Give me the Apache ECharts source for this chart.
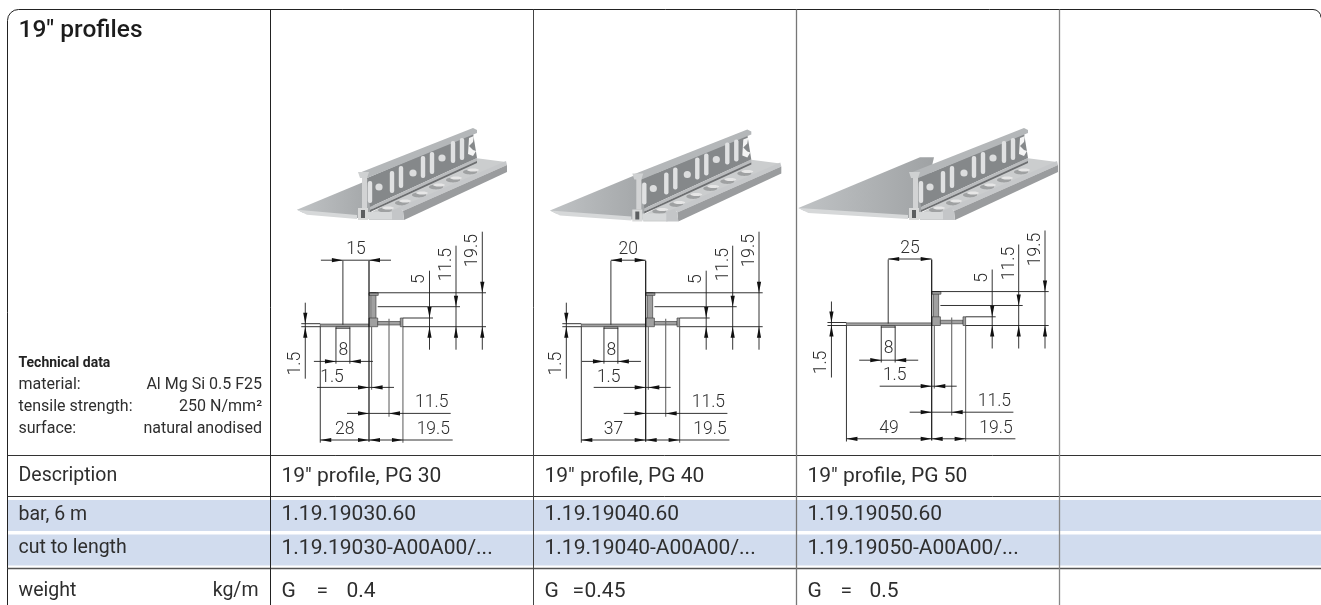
<!DOCTYPE html>
<html><head><meta charset="utf-8">
<style>html,body{margin:0;padding:0;background:#fff}#c{width:1321px;height:605px}</style>
<script src="https://cdn.jsdelivr.net/npm/echarts@6/dist/echarts.min.js"></script>
</head><body><div id="c"></div>
<script>
// ---- data ----
const title = '19" profiles';
const techTitle = 'Technical data';
const techLabels = ['material:', 'tensile strength:', 'surface:'];
const techValues = ['Al Mg Si 0.5 F25', '250 N/mm²', 'natural anodised'];
const rowLabels = ['Description', 'bar, 6 m', 'cut to length', 'weight'];
const weightUnit = 'kg/m';
const descriptions = ['19" profile, PG 30', '19" profile, PG 40', '19" profile, PG 50'];
const barCodes = ['1.19.19030.60', '1.19.19040.60', '1.19.19050.60'];
const cutCodes = ['1.19.19030-A00A00/...', '1.19.19040-A00A00/...', '1.19.19050-A00A00/...'];
const weights = ['0.4', '0.45', '0.5'];
const flangeWidths = [28, 37, 49];
const slotOffsets = [15, 20, 25];
const slotWidth = 8;
const thickness = 1.5;
const heights = [5, 11.5, 19.5];
const armWidths = [11.5, 19.5];

// ---- layout (pixels) ----
const FONT = 'Roboto';
const INK = '#2e2e2e';
const colX = [7.5, 270.5, 533.5, 796.5, 1059.5];
const colColor = ['#222', '#222', '#444', '#777', '#888'];
const lineY = [9.5, 455.5, 496.5, 568.5];
const bandY = [[500, 531], [534.5, 565.5]];
const rowCenter = [476.5, 515, 548.5, 591.5];
const techY = [385, 407, 429];
const origins = [[369, 326.7], [645.7, 326.7], [931.7, 325.5]];
const feet = [[363, 218], [637.3, 219.5], [914, 218]];
const eqOffset = [35, 28, 33];
const valOffset = [65, 40, 62];
const SCALE = 1.74;

const seg = (api, x1, y1, x2, y2, stroke = INK, lineWidth = 1) => {
  const a = api.coord([x1, y1]), b = api.coord([x2, y2]);
  return { type: 'line', shape: { x1: a[0], y1: a[1], x2: b[0], y2: b[1] }, style: { stroke, lineWidth } };
};
const txt = (api, x, y, text, o = {}) => {
  const p = api.coord([x, y]);
  return {
    type: 'text', x: p[0], y: p[1], rotation: o.rotation || 0,
    style: {
      text, fontFamily: FONT, fontSize: o.size || 18, fontWeight: o.weight || 400,
      fill: o.fill || INK, align: o.align || 'left', verticalAlign: 'middle'
    }
  };
};
const poly = (api, pts, fill) => ({
  type: 'polygon', shape: { points: pts.map(p => api.coord(p)) }, style: { fill }
});
const tri = (api, x, y, dir, fill = '#111') => {
  const L = 11, H = 2.1, d = { r: [1, 0], l: [-1, 0], u: [0, -1], d: [0, 1] }[dir];
  return poly(api, [[x, y], [x - d[0] * L - d[1] * H, y - d[1] * L - d[0] * H], [x - d[0] * L + d[1] * H, y - d[1] * L + d[0] * H]], fill);
};

function custom(data, fn, z) {
  return {
    type: 'custom', coordinateSystem: 'cartesian2d', clip: false, silent: true, z,
    data: data.map((d, i) => [i, 0]),
    encode: { x: 0, y: 1 },
    renderItem: (params, api) => ({ type: 'group', children: fn(params.dataIndex, api) })
  };
}

// ---- table ----
function bandMark(i, api) {
  const a = api.coord([colX[0], bandY[i][0]]), b = api.coord([1321, bandY[i][1]]);
  return [{ type: 'rect', shape: { x: a[0], y: a[1], width: b[0] - a[0], height: b[1] - a[1] }, style: { fill: '#d1dcee' } }];
}
function ruleMark(i, api) {
  const out = [];
  const R = 11, l = colX[0], t = lineY[0];
  out.push(seg(api, l + R, t, 1313, t, '#222', 1));
  out.push(seg(api, l, t + R, l, 605, '#222', 1));
  const c1 = api.coord([l + R, t + R]);
  out.push({ type: 'arc', shape: { cx: c1[0], cy: c1[1], r: R, startAngle: Math.PI, endAngle: Math.PI * 1.5, clockwise: true }, style: { fill: 'none', stroke: '#222', lineWidth: 1 } });
  const c2 = api.coord([1313, t + 8]);
  out.push({ type: 'arc', shape: { cx: c2[0], cy: c2[1], r: 8, startAngle: Math.PI * 1.5, endAngle: Math.PI * 2, clockwise: true }, style: { fill: 'none', stroke: '#222', lineWidth: 1 } });
  lineY.slice(1).forEach((y, k) => out.push(seg(api, colX[0], y, 1321, y, k === 2 ? '#555' : '#333', k === 2 ? 1.5 : 1)));
  colX.slice(1).forEach((x, k) => out.push(seg(api, x, lineY[0], x, 605, colColor[k + 1], k > 1 ? 1.3 : 1)));
  return out;
}
function tableText(i, api) {
  const tx = 18.5, rx = 262;
  const out = [
    txt(api, tx, 30.5, title, { size: 24.5, weight: 500, fill: '#1c1c1c' }),
    txt(api, tx, 363, techTitle, { size: 14, weight: 700, fill: '#222' })
  ];
  techLabels.forEach((t, k) => {
    out.push(txt(api, tx, techY[k], t, { size: 16 }));
    out.push(txt(api, rx, techY[k], techValues[k], { size: 16, align: 'right' }));
  });
  rowLabels.forEach((t, k) => out.push(txt(api, tx, rowCenter[k], t, { size: 19.5 })));
  out.push(txt(api, 258.5, rowCenter[3], weightUnit, { size: 19.5, align: 'right' }));
  [descriptions, barCodes, cutCodes].forEach((col, k) => col.forEach((t, c) => {
    out.push(txt(api, colX[c + 1] + 11, rowCenter[k], t, { size: 21 }));
  }));
  weights.forEach((t, c) => {
    const x = colX[c + 1] + 11;
    out.push(txt(api, x, rowCenter[3], 'G', { size: 21 }));
    out.push(txt(api, x + eqOffset[c], rowCenter[3], '=', { size: 21 }));
    out.push(txt(api, x + valOffset[c], rowCenter[3], t, { size: 21 }));
  });
  return out;
}

// ---- 3D view of the profile ----
function photoMark(i, api) {
  const [fx, fy] = feet[i], w = flangeWidths[i];
  const P = (x, y) => [fx + x, fy + y];
  const tipX = -w * 2.36, tipY = -6 - w * 0.08;
  const backX = 6, backY = tipY - (backX - tipX) * 0.417;
  const out = [];
  // flange
  out.push({
    type: 'polygon',
    shape: { points: [P(tipX, tipY), P(backX, backY), P(backX + 14, backY), P(6, 0), P(-6, 0), P(tipX + 6, tipY + 3)].map(p => api.coord(p)) },
    style: { fill: { type: 'linear', x: 0, y: 0, x2: 1, y2: 0, colorStops: [{ offset: 0, color: '#c0c3c5' }, { offset: 1, color: '#9fa2a4' }] } }
  });
  out.push(poly(api, [P(tipX, tipY), P(tipX + 6, tipY + 3), P(tipX + 10, tipY + 5), P(-6, 1), P(-6, -3)], '#d6d8d9'));
  // floor of the channel
  out.push(poly(api, [P(5, -4), P(112, -60), P(143, -56), P(37, -8), P(30, 2), P(6, 2)], '#cbcdce'));
  // back plate
  out.push(poly(api, [P(4, -40), P(110, -85), P(114, -60), P(7, -11)], '#85888a'));
  // cap of plate
  out.push(poly(api, [P(-4, -45), P(110, -90), P(114, -88), P(114, -85), P(4, -40)], '#b4b7b9'));
  // end hook cut-out
  out.push(poly(api, [P(106, -80), P(111, -82), P(110, -76), P(106, -72), P(110, -68), P(113, -67), P(110, -62), P(105, -64)], '#f4f4f4'));
  // holes
  [[7, -26, 0], [16, -31, 1], [29, -36, 0], [38, -41, 0], [50, -45, 1], [60, -51, 0], [69, -55, 0], [79, -60, 1], [90, -66, 0], [99, -69, 0]].forEach(h => {
    const c = api.coord(P(h[0], h[1]));
    if (h[2]) out.push({ type: 'circle', shape: { cx: c[0], cy: c[1], r: 3.6 }, style: { fill: '#dcddde' } });
    else out.push({ type: 'rect', shape: { x: c[0] - 2.2, y: c[1] - 11, width: 4.4, height: 22, r: 2 }, style: { fill: '#e0e1e2' } });
  });
  // rail below plate
  out.push(poly(api, [P(7, -11), P(114, -60), P(114, -57), P(7, -8)], '#b9bbbd'));
  out.push(poly(api, [P(7, -8), P(114, -57), P(114, -55), P(7, -6)], '#6c6e70'));
  // floor holes
  [[22, -8], [39, -15], [56, -23], [73, -31], [90, -38], [107, -46]].forEach(h => {
    const c = api.coord(P(h[0], h[1]));
    out.push({ type: 'ellipse', shape: { cx: c[0], cy: c[1], rx: 7, ry: 2.4 }, style: { fill: '#9fa1a2' } });
    out.push({ type: 'ellipse', shape: { cx: c[0] + 3, cy: c[1] - 2, rx: 6, ry: 1.5 }, style: { fill: '#e6e6e6' } });
  });
  // channel outer wall
  out.push(poly(api, [P(37, -11), P(143, -57), P(144, -53), P(40, -7)], '#c6c8ca'));
  out.push(poly(api, [P(40, -7), P(144, -53), P(144, -46), P(41, 2)], '#9a9c9e'));
  out.push(poly(api, [P(37, -11), P(40, -7), P(41, 2), P(29, 2), P(28, -7)], '#c4c6c8'));
  // front cross-section
  out.push(poly(api, [P(-1, -41), P(4, -41), P(4, -10), P(-1, -10)], '#d2d3d4'));
  out.push(poly(api, [P(-5, -46), P(6, -46), P(4, -40), P(-3, -40)], '#cfd1d2'));
  out.push(poly(api, [P(-5, -10), P(5, -10), P(5, 2), P(-5, 2)], '#d8d9d9'));
  out.push(poly(api, [P(-2, -8), P(2, -8), P(2, 0), P(-2, 0)], '#5c5e60'));
  out.push(poly(api, [P(5, -6), P(29, -6), P(29, 1), P(5, 1)], '#d6d8d9'));
  return out;
}

// ---- dimensioned section drawing ----
function sectionMark(i, api) {
  const [ox, oy] = origins[i];
  const w = flangeWidths[i], off = slotOffsets[i];
  const X = mm => ox + mm * SCALE, Y = mm => oy - mm * SCALE;
  const out = [];
  const box = (x1, y1, x2, y2) => {
    const a = api.coord([X(x1), Y(y1)]), b = api.coord([X(x2), Y(y2)]);
    return { type: 'rect', shape: { x: a[0], y: a[1], width: b[0] - a[0], height: b[1] - a[1] }, style: { fill: '#a0a0a0', stroke: '#444', lineWidth: 0.7 } };
  };
  // the profile itself
  out.push(box(-w, thickness, 0, 0));
  out.push(box(-off - slotWidth / 2, 0, -off + slotWidth / 2, -thickness * 0.7));
  out.push(box(1, 19.5, 4, 4));
  out.push(box(0, 19.5, 5.3, 18));
  out.push(box(0, 5, 5, 0));
  out.push(box(5, 3, 18, 1));
  out.push(box(18, 5, armWidths[1], 0));
  const d = (...a) => out.push(seg(api, ...a, '#1e1e1e', 0.9));
  const g = (...a) => out.push(seg(api, ...a, '#666', 1.1));

  // extension lines
  out.push(seg(api, X(0), oy - 66, X(0), oy + 115, '#111', 1.2));
  g(X(thickness), oy, X(thickness), oy + 63);
  d(X(-off), oy - 66, X(-off), oy - 2);
  d(X(-w), oy, X(-w), oy + 116);
  d(X(-off - slotWidth / 2), oy + 1, X(-off - slotWidth / 2), oy + 37);
  d(X(-off + slotWidth / 2), oy + 1, X(-off + slotWidth / 2), oy + 37);
  g(X(armWidths[0]), oy - 8, X(armWidths[0]), oy + 90);
  g(X(armWidths[1]), oy, X(armWidths[1]), oy + 116);
  d(X(0), Y(heights[2]), ox + 117, Y(heights[2]));
  d(X(5), Y(heights[1]), ox + 91, Y(heights[1]));
  d(X(armWidths[1]), Y(heights[0]), ox + 64, Y(heights[0]));
  d(X(armWidths[1]), oy, ox + 117, oy);
  d(X(-w) - 19, oy - 3, X(-w), oy - 3);
  d(X(-w) - 19, oy, X(-w), oy);

  // slot offset dimension
  const topY = oy - 66.5;
  if (off < 20) {
    d(X(-off) - 22, topY, X(0) + 22, topY);
    out.push(tri(api, X(-off), topY, 'r'), tri(api, X(0), topY, 'l'));
  } else {
    d(X(-off), topY, X(0), topY);
    out.push(tri(api, X(-off), topY, 'l'), tri(api, X(0), topY, 'r'));
  }
  out.push(txt(api, X(-off / 2), topY - 10.5, String(off), { size: 17.5, weight: 300, align: 'center' }));

  // vertical dimensions to the right
  heights.forEach((h, k) => {
    const x = [ox + 60.5, ox + 87, ox + 113.3][k];
    const top = [oy - 56, oy - 81, oy - 95][k];
    d(x, top, x, oy + 23);
    out.push(tri(api, x, Y(h), 'd'), tri(api, x, oy, 'u'));
    out.push(txt(api, x - 9.5, [oy - 47.5, oy - 62, oy - 76][k], String(h), { size: 17.5, weight: 300, align: 'center', rotation: Math.PI / 2 }));
  });

  // thickness on the left
  const lx = X(-w) - 15;
  d(lx, oy - 24, lx, oy + 52);
  out.push(tri(api, lx, oy - 3, 'd'), tri(api, lx, oy, 'u'));
  out.push(txt(api, lx - 10, oy + 37, String(thickness), { size: 17.5, weight: 300, align: 'center', rotation: Math.PI / 2 }));

  // slot width
  const sy = oy + 34.7;
  d(X(-off) - 29, sy, X(-off) + 30, sy);
  out.push(tri(api, X(-off - slotWidth / 2), sy, 'r'), tri(api, X(-off + slotWidth / 2), sy, 'l'));
  out.push(txt(api, X(-off) + 0.5, oy + 23.5, String(slotWidth), { size: 17.5, weight: 300, align: 'center' }));

  // web thickness
  const ty = oy + 60.7;
  d(ox - 52, ty, ox + 25, ty);
  out.push(tri(api, X(0), ty, 'r'), tri(api, X(thickness), ty, 'l'));
  out.push(txt(api, ox - 37, oy + 50.5, String(thickness), { size: 17.5, weight: 300, align: 'center' }));

  // arm dimensions
  const ay = oy + 86.7;
  d(ox - 22, ay, ox + 81.7, ay);
  out.push(tri(api, X(0), ay, 'r'), tri(api, X(armWidths[0]), ay, 'l'));
  out.push(txt(api, ox + 62.7, oy + 76, String(armWidths[0]), { size: 17.5, weight: 300, align: 'center' }));

  const by = oy + 113.3;
  d(X(-w), by, ox + 83.7, by);
  out.push(tri(api, X(-w), by, 'l'), tri(api, X(0), by, 'r'), tri(api, X(0), by, 'l'), tri(api, X(armWidths[1]), by, 'r'));
  out.push(txt(api, X(-w / 2), oy + 103, String(w), { size: 17.5, weight: 300, align: 'center' }));
  out.push(txt(api, ox + 64.3, oy + 103, String(armWidths[1]), { size: 17.5, weight: 300, align: 'center' }));
  return out;
}

const chart = echarts.init(document.getElementById('c'), null, { renderer: 'canvas' });
chart.setOption({
  animation: false,
  backgroundColor: '#fff',
  grid: { left: 0, right: 0, top: 0, bottom: 0, containLabel: false },
  xAxis: { type: 'value', min: 0, max: 1321, show: false },
  yAxis: { type: 'value', min: 0, max: 605, inverse: true, show: false },
  series: [
    custom(bandY, bandMark, 1),
    custom([0], ruleMark, 2),
    custom(flangeWidths, photoMark, 3),
    custom(flangeWidths, sectionMark, 4),
    custom([0], tableText, 5)
  ]
});
</script></body></html>
